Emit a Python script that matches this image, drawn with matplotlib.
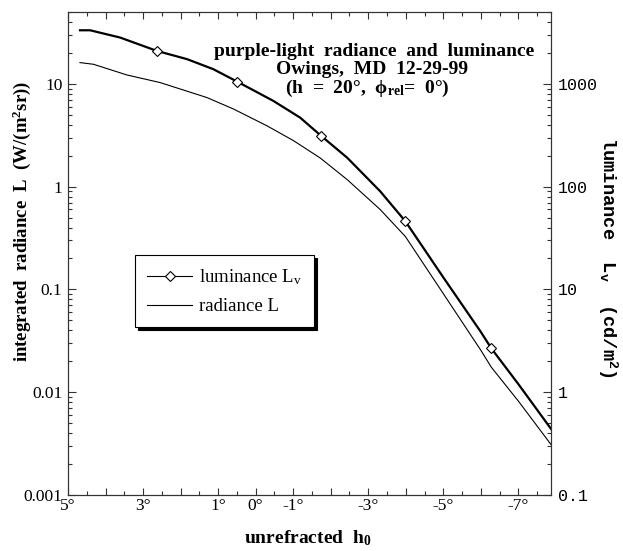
import matplotlib
matplotlib.use("Agg")
import matplotlib.pyplot as plt
from matplotlib.ticker import FixedLocator, NullFormatter, LogLocator
from matplotlib.lines import Line2D

plt.rcParams['mathtext.fontset'] = 'custom'
plt.rcParams['mathtext.rm'] = 'Liberation Serif:bold'
plt.rcParams['mathtext.it'] = 'Liberation Serif:bold:italic'
plt.rcParams['mathtext.bf'] = 'Liberation Serif:bold'
plt.rcParams['mathtext.sf'] = 'Liberation Serif'
plt.rcParams['mathtext.tt'] = 'Liberation Mono:bold'

SERIF = 'Liberation Serif'
MONO = 'Liberation Mono'

# luminance (cd/m^2) vs unrefracted sun elevation h0 (deg)
lum_h0 = [4.68, 4.41, 3.61, 2.63, 1.83, 1.13, 0.49, -0.47, -1.19, -1.74,
          -2.44, -3.32, -3.99, -5.0, -6.0, -6.28, -7.0, -7.87]
lum_val = [3320, 3320, 2820, 2090, 1740, 1390, 1050, 683, 468, 313,
           191, 90, 46, 13.1, 3.86, 2.67, 1.2, 0.44]
lum_marker_idx = [3, 6, 9, 12, 15]

# integrated radiance (W/(m^2 sr))
rad_h0 = [4.68, 4.32, 3.43, 2.55, 1.30, 0.59, -0.30, -1.01, -1.72, -2.44,
          -3.32, -3.99, -5.0, -6.0, -6.28, -7.0, -7.87]
rad_val = [16.1, 15.5, 12.2, 10.3, 7.36, 5.69, 3.91, 2.80, 1.90, 1.17,
           0.598, 0.327, 0.091, 0.0256, 0.0175, 0.0082, 0.0031]

xtick_pos = [5, 3, 1, 0, -1, -3, -5, -7]
xtick_labels = ['5°', '3°', '1°', '0°', '-1°', '-3°', '-5°', '-7°']
left_ticks = [0.001, 0.01, 0.1, 1, 10]
left_labels = ['0.001', '0.01', '0.1', '1', '10']
right_ticks = [0.1, 1, 10, 100, 1000]
right_labels = ['0.1', '1', '10', '100', '1000']

W, H = 623, 551
fig = plt.figure(figsize=(W / 100, H / 100), dpi=100)
ax = fig.add_axes([68 / W, 56 / H, 483 / W, 483 / H])
ax2 = ax.twinx()

ax.set_xlim(5, -7.87)
ax.set_yscale('log')
ax.set_ylim(0.001, 50)
ax2.set_yscale('log')
ax2.set_ylim(0.1, 5000)

ax.plot(rad_h0, rad_val, color='black', lw=0.8)
ax2.plot(lum_h0, lum_val, color='black', lw=1.6, marker='D', ms=5,
         mfc='white', mec='black', mew=0.8, markevery=lum_marker_idx)

# x ticks
ax.xaxis.set_major_locator(FixedLocator(list(range(5, -8, -1))))
ax.xaxis.set_minor_locator(FixedLocator([v + 0.5 for v in range(-8, 5)]))
ax.xaxis.set_major_formatter(NullFormatter())
for p, l in zip(xtick_pos, xtick_labels):
    ax.text(p, -0.007, l, transform=ax.get_xaxis_transform(), ha='center', va='top',
            fontsize=12.5, family=SERIF)

ax.set_yticks(left_ticks)
ax.set_yticklabels(left_labels, family=SERIF, fontsize=12.5)
ax.yaxis.set_minor_locator(LogLocator(base=10, subs=range(2, 10)))
ax.yaxis.set_minor_formatter(NullFormatter())
ax2.set_yticks(right_ticks)
ax2.set_yticklabels(right_labels, family=MONO, fontsize=12)
ax2.yaxis.set_minor_locator(LogLocator(base=10, subs=range(2, 10)))
ax2.yaxis.set_minor_formatter(NullFormatter())

for a in (ax, ax2):
    a.tick_params(which='both', direction='in', top=True, width=0.8, color='#333333')
    a.tick_params(which='major', length=6)
    a.tick_params(which='minor', length=3)
    for s in a.spines.values():
        s.set_linewidth(0.8)
        s.set_color('#333333')
ax.tick_params(axis='y', right=False, which='both')
ax.tick_params(axis='y', which='major', pad=4)
ax2.tick_params(axis='y', which='major', pad=5)
ax.tick_params(axis='x', which='major', length=5)

# axis labels
fig.text(308 / W, 1 - 543 / H, 'unrefracted  h$_\\mathrm{0}$', family=SERIF, fontweight='bold',
         fontsize=14, ha='center', va='baseline')
fig.text(22 / W, 1 - 221 / H, 'integrated  radiance  L  (W/(m$^\\mathrm{2}$sr))', family=SERIF,
         fontweight='bold', fontsize=13.5, rotation=90, ha='center', va='center')
fig.text(608 / W, 1 - 257 / H, 'luminance  L$_\\mathtt{v}$  (cd/m$^\\mathtt{2}$)', family=MONO,
         fontweight='bold', fontsize=13.5, rotation=270, ha='center', va='center')

# title block
for xc, yb, s in [(374, 56, 'purple-light  radiance  and  luminance'),
                  (372, 74, 'Owings,  MD  12-29-99'),
                  (367, 93, '(h  =  20°,  ϕ$_\\mathrm{rel}$=  0°)')]:
    ax.text((xc - 68) / 483, (495 - yb) / 483, s, transform=ax.transAxes, ha='center',
            va='baseline', family=SERIF, fontweight='bold', fontsize=14)

handles = [Line2D([], [], color='black', lw=0.8, marker='D', ms=5, mfc='white', mec='black', mew=0.8),
           Line2D([], [], color='black', lw=0.8)]
leg = ax.legend(handles, ['luminance L$_\\mathsf{v}$', 'radiance L'], loc='upper left',
                bbox_to_anchor=(0.139, 0.497), prop={'family': SERIF, 'size': 13.5},
                frameon=True, fancybox=False, shadow={'color': 'black', 'alpha': 1},
                handlelength=2.4, borderpad=0.65, labelspacing=0.6, handletextpad=0.35,
                borderaxespad=0)
leg.get_frame().set_edgecolor('black')
leg.get_frame().set_linewidth(0.8)

fig.savefig('out.png', dpi=100)
